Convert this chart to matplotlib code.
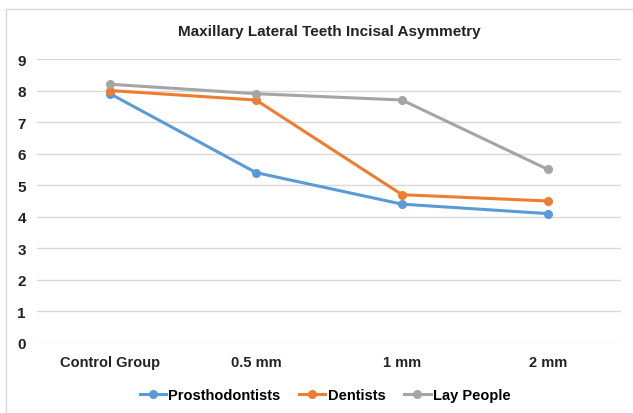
import matplotlib.pyplot as plt
from matplotlib.lines import Line2D

categories = ['Control Group', '0.5 mm', '1 mm', '2 mm']
prosthodontists = [7.9, 5.4, 4.4, 4.1]
dentists = [8.0, 7.7, 4.7, 4.5]
lay_people = [8.2, 7.9, 7.7, 5.5]
y_ticks = list(range(0, 10))

series = [
    ('Prosthodontists', prosthodontists, '#5B9BD5'),
    ('Dentists', dentists, '#ED7D31'),
    ('Lay People', lay_people, '#A5A5A5'),
]

plt.rcParams['font.family'] = ['Liberation Sans Narrow', 'Liberation Sans', 'DejaVu Sans']

fig = plt.figure(figsize=(6.33, 4.14), dpi=100)
W, H = 633, 414
ax = fig.add_axes([37 / W, 1 - 344 / H, 584 / W, 284 / H])

x = list(range(len(categories)))
for name, vals, color in series:
    ax.plot(x, vals, color=color, linewidth=2.2, marker='o', markersize=5.5,
            label=name, solid_capstyle='round')

ax.set_xlim(-0.5, len(categories) - 0.5)
ax.set_ylim(0, 9)
ax.set_yticks(y_ticks)
ax.set_yticklabels([str(t) for t in y_ticks], fontsize=11, fontweight='bold', color='#222222')
ax.set_xticks(x)
ax.set_xticklabels(categories, fontsize=10.5, fontweight='bold', color='#222222')
ax.tick_params(axis='both', length=0)
ax.tick_params(axis='y', pad=8)
ax.tick_params(axis='x', pad=9)
ax.grid(axis='y', color='#D9D9D9', linewidth=1)
ax.set_axisbelow(True)
for s in ax.spines.values():
    s.set_visible(False)

fig.text((37 + 621) / 2 / W, 1 - 32 / H, 'Maxillary Lateral Teeth Incisal Asymmetry',
         ha='center', va='center', fontsize=11, fontweight='bold', color='#222222')

handles = [Line2D([], [], color=c, linewidth=2.2, marker='o', markersize=5.5) for _, _, c in series]
fig.legend(handles, [n for n, _, _ in series], loc='center', bbox_to_anchor=(325 / W, 1 - 396 / H),
           ncol=3, frameon=False, handlelength=1.8, handletextpad=0.15, columnspacing=1.3,
           prop={'size': 10.5, 'weight': 'bold'})

# outer chart border
fig.add_artist(Line2D([6 / W, 6 / W], [0, 1 - 10 / H], color='#D9D9D9', linewidth=1))
fig.add_artist(Line2D([6 / W, 1], [1 - 10 / H, 1 - 10 / H], color='#D9D9D9', linewidth=1))

fig.savefig('out.png', dpi=100, facecolor='white')
